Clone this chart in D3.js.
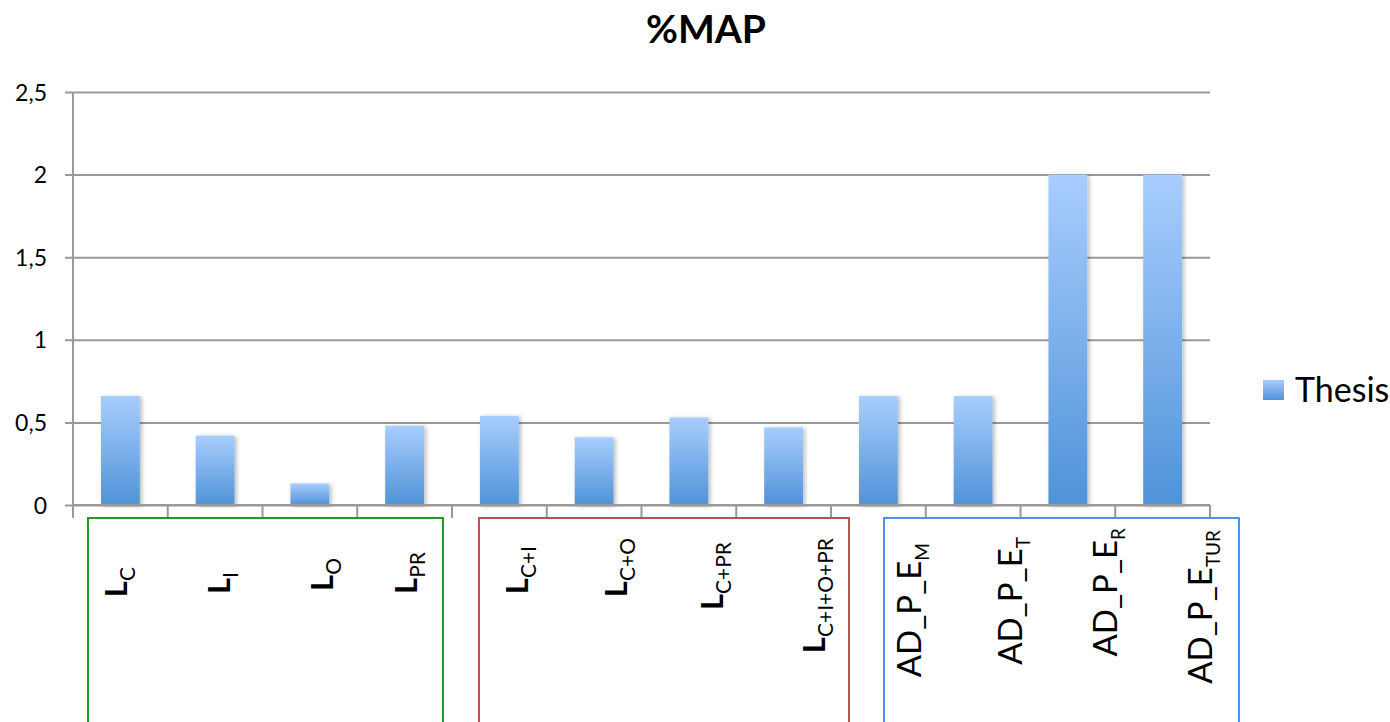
<!DOCTYPE html>
<html>
<head>
<meta charset="utf-8">
<script src="https://cdn.jsdelivr.net/npm/d3@7"></script>
<style>
  html, body { margin: 0; padding: 0; background: #fff; }
  svg { display: block; font-family: Lato, "Open Sans", sans-serif; }
</style>
</head>
<body>
<svg id="chart" width="1390" height="722"></svg>
<script>
// --- data ---------------------------------------------------------------
const categories = ["LC", "LI", "LO", "LPR", "LC+I", "LC+O", "LC+PR", "LC+I+O+PR",
                    "AD_P_EM", "AD_P_ET", "AD_P_ER", "AD_P_ETUR"];
// label text split into main part and subscript
const labelMain = ["L", "L", "L", "L", "L", "L", "L", "L",
                   "AD_P_E", "AD_P_E", "AD_P_E", "AD_P_E"];
const labelSub  = ["C", "I", "O", "PR", "C+I", "C+O", "C+PR", "C+I+O+PR",
                   "M", "T", "R", "TUR"];
const thesis = [0.66, 0.42, 0.13, 0.48, 0.54, 0.41, 0.53, 0.47, 0.66, 0.66, 2, 2];
const seriesName = "Thesis";
const yTicks = [0, 0.5, 1, 1.5, 2, 2.5];
const groups = [
  { name: "single", members: ["LC", "LI", "LO", "LPR"] },
  { name: "combined", members: ["LC+I", "LC+O", "LC+PR", "LC+I+O+PR"] },
  { name: "adaptive", members: ["AD_P_EM", "AD_P_ET", "AD_P_ER", "AD_P_ETUR"] }
];

// --- layout ---------------------------------------------------------------
const W = 1390, H = 722;
const plot = { left: 73, right: 1210, top: 92, bottom: 505 };
const tickLen = 13;
// hand-placed category labels: baseline offset from band centre, top end y
const labelDx  = [6.6, 14.9, 23.1, 12.4, 28.6, 32.9, 34.1, 41.4, 42.6, 48.9, 49.1, 49.4];
const labelTop = [567, 572, 558, 552, 546, 538, 542, 538, 543, 537, 528, 530];
// group frames: offsets (left/right) from the group's band edges
const groupStyle = [
  { color: "#22992a", dl: 15, dr: -9 },
  { color: "#b9524e", dl: 27, dr: 18 },
  { color: "#4f8ff7", dl: 53, dr: 29 }
];
const frameTop = 518;
const gridColor = "#999999";

const svg = d3.select("#chart");
const fmt = d3.formatLocale({ decimal: ",", thousands: ".", grouping: [3], currency: ["", ""] }).format(".1~f");

const x = d3.scaleBand()
  .domain(categories)
  .range([plot.left, plot.right])
  .paddingInner(0.59)
  .paddingOuter(0.295);

const y = d3.scaleLinear()
  .domain([0, 2.5])
  .range([plot.bottom, plot.top]);

// --- defs: bar gradient and shadow -------------------------------------------
const defs = svg.append("defs");
const grad = defs.append("linearGradient")
  .attr("id", "barFill").attr("x1", 0).attr("y1", 0).attr("x2", 0).attr("y2", 1);
grad.append("stop").attr("offset", "0%").attr("stop-color", "#a8cdfe");
grad.append("stop").attr("offset", "100%").attr("stop-color", "#4f93d8");

const shadow = defs.append("filter").attr("id", "barShadow")
  .attr("x", "-20%").attr("y", "-5%").attr("width", "150%").attr("height", "115%");
shadow.append("feDropShadow")
  .attr("dx", 2).attr("dy", 1).attr("stdDeviation", 2)
  .attr("flood-color", "#000").attr("flood-opacity", 0.28);

// --- title ----------------------------------------------------------------
svg.append("text")
  .attr("x", 706).attr("y", 43)
  .attr("text-anchor", "middle")
  .attr("font-size", 39).attr("font-weight", "bold")
  .attr("fill", "#000")
  .text("%MAP");

// --- gridlines and y axis ---------------------------------------------------
const yAxis = d3.axisLeft(y)
  .tickValues(yTicks)
  .tickFormat(fmt)
  .tickSize(-(plot.right - plot.left))
  .tickPadding(0);

const yg = svg.append("g")
  .attr("transform", `translate(${plot.left},0)`)
  .call(yAxis);
yg.select(".domain").remove();
yg.selectAll(".tick line")
  .attr("x1", -8)
  .attr("stroke", gridColor).attr("stroke-width", 2);
yg.selectAll(".tick text")
  .attr("x", -26)
  .attr("dy", "0.35em")
  .attr("font-size", 23)
  .attr("font-family", "Lato, 'Open Sans', sans-serif")
  .attr("fill", "#000");

// vertical axis line, running down past zero to the tick length
svg.append("line")
  .attr("x1", plot.left).attr("x2", plot.left)
  .attr("y1", plot.top).attr("y2", plot.bottom + tickLen)
  .attr("stroke", gridColor).attr("stroke-width", 2);

// category tick marks at band boundaries
const step = x.step();
const boundaries = d3.range(categories.length + 1).map(i => plot.left + i * step);
svg.append("g").selectAll("line")
  .data(boundaries.slice(1))
  .join("line")
  .attr("x1", d => d).attr("x2", d => d)
  .attr("y1", plot.bottom).attr("y2", plot.bottom + tickLen)
  .attr("stroke", gridColor).attr("stroke-width", 2);

// --- bars -------------------------------------------------------------------
svg.append("g").selectAll("rect")
  .data(categories.map((c, i) => ({ c, v: thesis[i] })))
  .join("rect")
  .attr("x", d => x(d.c))
  .attr("y", d => y(d.v))
  .attr("width", x.bandwidth())
  .attr("height", d => y(0) - y(d.v))
  .attr("fill", "url(#barFill)")
  .attr("filter", "url(#barShadow)");

// redraw the zero line over the bar bases
svg.append("line")
  .attr("x1", plot.left).attr("x2", plot.right)
  .attr("y1", y(0)).attr("y2", y(0))
  .attr("stroke", gridColor).attr("stroke-width", 2);

// --- group frames -------------------------------------------------------------
groups.forEach((g, gi) => {
  const first = categories.indexOf(g.members[0]);
  const last = categories.indexOf(g.members[g.members.length - 1]);
  const x0 = boundaries[first] + groupStyle[gi].dl;
  const x1 = boundaries[last + 1] + groupStyle[gi].dr;
  svg.append("rect")
    .attr("x", x0).attr("y", frameTop)
    .attr("width", x1 - x0).attr("height", H - frameTop + 20)
    .attr("fill", "none")
    .attr("stroke", groupStyle[gi].color)
    .attr("stroke-width", 2);
});

// --- category labels (rotated, with subscripts) --------------------------------
const labels = svg.append("g").selectAll("text")
  .data(categories.map((c, i) => ({ c, i })))
  .join("text")
  .attr("transform", d => `translate(${x(d.c) + x.bandwidth() / 2 + labelDx[d.i]},${labelTop[d.i]}) rotate(-90)`)
  .attr("text-anchor", "end")
  .attr("fill", "#000");

labels.append("tspan")
  .attr("font-size", d => d.i < 8 ? 31 : 33)
  .attr("font-weight", d => d.i < 8 ? "bold" : "normal")
  .text(d => labelMain[d.i]);
labels.append("tspan")
  .attr("font-size", d => d.i < 8 ? 21 : 19)
  .attr("dy", 8)
  .text(d => labelSub[d.i]);

// --- legend -----------------------------------------------------------------------
const lg = svg.append("g").attr("transform", "translate(1263,380)");
lg.append("rect")
  .attr("width", 21).attr("height", 20)
  .attr("fill", "url(#barFill)");
lg.append("text")
  .attr("x", 32).attr("y", 22)
  .attr("font-size", 34)
  .attr("fill", "#000")
  .text(seriesName);
</script>
</body>
</html>
